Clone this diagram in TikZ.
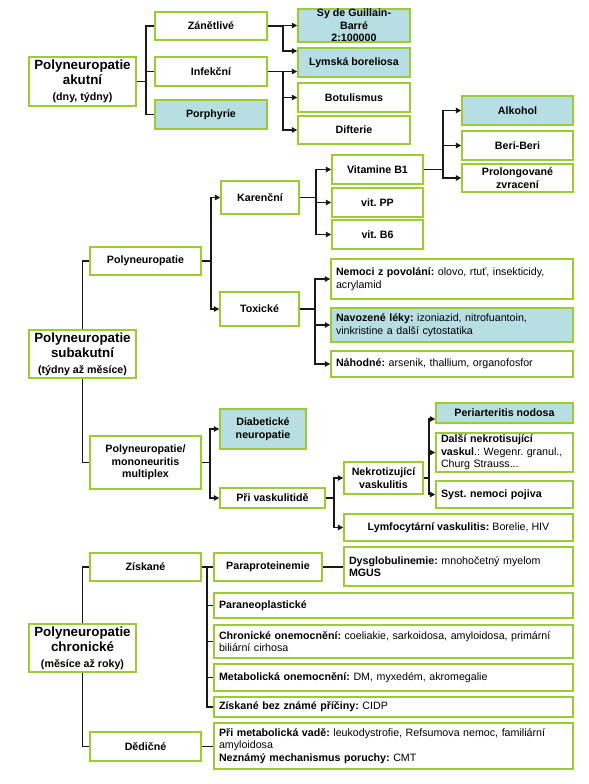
\documentclass[tikz,border=0pt]{standalone}
\usepackage{fontspec}
\setmainfont{Liberation Sans}
\usetikzlibrary{arrows.meta}
\frenchspacing
\definecolor{bgreen}{RGB}{155,204,50}
\definecolor{tealf}{RGB}{183,222,226}
\definecolor{lnc}{RGB}{25,25,25}
\newcommand\mkbox[7]{%
 \pgfmathsetmacro\bxw{(#4-#2)*0.75}%
 \pgfmathsetmacro\bxh{(#5-#3)*0.75}%
 \pgfmathsetmacro\bxx{(#2+#4)/2}%
 \pgfmathsetmacro\bxy{(#3+#5)/2}%
 \node[#6, minimum width=\bxw pt, minimum height=\bxh pt] (#1) at (\bxx,\bxy) {#7};}
\newcommand\mklbox[7]{%
 \pgfmathsetmacro\bxw{(#4-#2)*0.75}%
 \pgfmathsetmacro\bxt{(#4-#2-10)*0.75}%
 \pgfmathsetmacro\bxh{(#5-#3)*0.75}%
 \pgfmathsetmacro\bxx{(#2+#4)/2}%
 \pgfmathsetmacro\bxy{(#3+#5)/2}%
 \node[lbox, #6, text width=\bxt pt, minimum width=\bxw pt, minimum height=\bxh pt] (#1) at (\bxx,\bxy) {#7};}
\tikzset{
 box/.style={draw=bgreen, line width=1.1pt, fill=white, inner sep=0pt, align=center, font=\fontsize{8}{9.4}\selectfont\frenchspacing\bfseries},
 tbox/.style={box, fill=tealf},
 mainbox/.style={box, font=\fontsize{10}{11}\selectfont\frenchspacing\bfseries},
 nbox/.style={box, font=\fontsize{8}{9.4}\selectfont\frenchspacing},
 lbox/.style={box, align=left, inner xsep=3.75pt, inner ysep=0pt, font=\fontsize{8}{9.4}\selectfont\frenchspacing},
 ln/.style={draw=lnc, line width=0.9pt},
 arr/.style={ln, -{Triangle[length=4pt,width=4pt]}},
}
\begin{document}
\begin{tikzpicture}[x=0.75pt, y=-0.75pt]
\useasboundingbox (0,0) rectangle (588,784);
% ---------- akutni
\mkbox{akut}{29}{57}{136}{106}{mainbox}{Polyneuropatie\\akutní\\[1pt]{\fontsize{8}{9}\selectfont (dny, týdny)}}
\mkbox{zan}{155}{12}{267}{40}{box}{Zánětlivé}
\mkbox{inf}{155}{57}{267}{86}{box}{Infekční}
\mkbox{por}{155}{100}{267}{129}{tbox}{Porphyrie}
\mkbox{sy}{298}{11}{410}{40}{tbox}{Sy de Guillain-\\Barré\\2:100000}
\mkbox{lym}{298}{48}{410}{77}{tbox}{Lymská boreliosa}
\mkbox{bot}{298}{83}{410}{112}{box}{Botulismus}
\mkbox{dif}{298}{116}{410}{144}{box}{Difterie}
% ---------- subakutni
\mkbox{sub}{29}{330}{136}{378}{mainbox}{Polyneuropatie\\subakutní\\[1pt]{\fontsize{8}{9}\selectfont (týdny až měsíce)}}
\mkbox{poly}{90}{247}{201}{275}{box}{Polyneuropatie}
\mkbox{pm}{90}{436}{201}{489}{box}{Polyneuropatie/\\mononeuritis\\multiplex}
\mkbox{kar}{221}{181}{299}{214}{box}{Karenční}
\mkbox{tox}{220}{292}{299}{326}{box}{Toxické}
\mkbox{vb1}{332}{155}{423}{184}{box}{Vitamine B1}
\mkbox{vpp}{332}{188}{423}{217}{box}{vit. PP}
\mkbox{vb6}{332}{220}{423}{249}{box}{vit. B6}
\mkbox{alk}{462}{96}{573}{125}{tbox}{Alkohol}
\mkbox{ber}{462}{131}{573}{160}{box}{Beri-Beri}
\mkbox{pro}{462}{164}{573}{192}{box}{Prolongované\\zvracení}
\mklbox{nem}{331}{259}{573}{299}{}{\textbf{Nemoci z povolání:} olovo, rtuť, insekticidy,\\acrylamid}
\mklbox{nav}{331}{308}{573}{342}{fill=tealf}{\textbf{Navozené léky:} izoniazid, nitrofuantoin,\\vinkristine a další cytostatika}
\mklbox{nah}{331}{351}{573}{377}{}{\textbf{Náhodné:} arsenik, thallium, organofosfor}
\mkbox{dia}{220}{409}{306}{449}{tbox}{Diabetické\\neuropatie}
\mkbox{pva}{220}{488}{325}{508}{box}{Při vaskulitidě}
\mkbox{nek}{344}{462}{423}{494}{box}{Nekrotizující\\vaskulitis}
\mkbox{lyf}{344}{514}{573}{541}{nbox}{\textbf{Lymfocytární vaskulitis:} Borelie, HIV}
\mkbox{per}{436}{403}{573}{423}{tbox}{Periarteritis nodosa}
\mklbox{dal}{436}{433}{573}{472}{}{\textbf{Další nekrotisující}\\\textbf{vaskul}.: Wegenr. granul.,\\Churg Strauss...}
\mklbox{sys}{436}{481}{573}{508}{}{\textbf{Syst. nemoci pojiva}}
% ---------- chronicke
\mkbox{chr}{29}{624}{136}{672}{mainbox}{Polyneuropatie\\chronické\\[1pt]{\fontsize{8}{9}\selectfont (měsíce až roky)}}
\mkbox{zis}{90}{553}{201}{581}{box}{Získané}
\mkbox{ded}{90}{732}{201}{761}{box}{Dědičné}
\mkbox{par}{214}{553}{322}{581}{box}{Paraproteinemie}
\mklbox{dys}{344}{547}{573}{586}{}{\textbf{Dysglobulinemie:} mnohočetný myelom\\\textbf{MGUS}}
\mklbox{pne}{214}{593}{573}{618}{}{\textbf{Paraneoplastické}}
\mklbox{chro}{214}{625}{573}{658}{}{\textbf{Chronické onemocnění:} coeliakie, sarkoidosa, amyloidosa, primární\\biliární cirhosa}
\mklbox{met}{214}{664}{573}{691}{}{\textbf{Metabolická onemocnění:} DM, myxedém, akromegalie}
\mklbox{zbz}{214}{697}{573}{717}{}{\textbf{Získané bez známé příčiny:} CIDP}
\mklbox{pmv}{214}{723}{573}{769}{}{\textbf{Při metabolická vadě:} leukodystrofie, Refsumova nemoc, familiární\\amyloidosa\\\textbf{Neznámý mechanismus poruchy:} CMT}
% ---------- trunk coordinates
\coordinate (ta) at (146,0);
\coordinate (tz) at (283,0);
\coordinate (lz) at (0,51);
\coordinate (tp) at (211,0);
\coordinate (tk) at (316,0);
\coordinate (tv) at (443,0);
\coordinate (tt) at (315,0);
\coordinate (tpm) at (210,0);
\coordinate (tpv) at (334,0);
\coordinate (tn) at (429,0);
\coordinate (pz) at (0,419);
\coordinate (tz2) at (207,0);
% ---------- connectors akutni
\foreach \c in {zan,inf,por}{\draw[ln] (akut.east) -- (akut.east -| ta) |- (\c.west);}
\draw[arr] (zan.east) -- (zan.east -| tz) |- (sy.west);
\draw[arr] (zan.east) -- (zan.east -| tz) |- (lym.west |- lz);
\draw[arr] (inf.east) -- (lym.west |- inf.east);
\draw[arr] (inf.east) -- (inf.east -| tz) |- (bot.west);
\draw[arr] (inf.east) -- (inf.east -| tz) |- (dif.west);
% ---------- connectors subakutni
\draw[ln] (sub.north) |- (poly.west);
\draw[ln] (sub.south) |- (pm.west);
\foreach \c in {kar,tox}{\draw[arr] (poly.east) -- (poly.east -| tp) |- (\c.west);}
\foreach \c in {vb1,vpp,vb6}{\draw[arr] (kar.east) -- (kar.east -| tk) |- (\c.west);}
\foreach \c in {alk,ber,pro}{\draw[arr] (vb1.east) -- (vb1.east -| tv) |- (\c.west);}
\foreach \c in {nem,nav,nah}{\draw[arr] (tox.east) -- (tox.east -| tt) |- (\c.west);}
\foreach \c in {dia,pva}{\draw[arr] (pm.east) -- (pm.east -| tpm) |- (\c.west);}
\foreach \c in {nek,lyf}{\draw[arr] (pva.east) -- (pva.east -| tpv) |- (\c.west);}
\draw[arr] (nek.east) -- (nek.east -| tn) |- (per.west |- pz);
\foreach \c in {dal,sys}{\draw[arr] (nek.east) -- (nek.east -| tn) |- (\c.west);}
% ---------- connectors chronicke
\draw[ln] (chr.north) |- (zis.west);
\draw[ln] (chr.south) |- (ded.west);
\draw[ln] (zis.east) -- (par.west);
\foreach \c in {pne,chro,met,zbz}{\draw[ln] (zis.east) -- (zis.east -| tz2) |- (\c.west);}
\draw[ln] (par.east) -- (dys.west |- par.east);
\draw[ln] (ded.east) -- (pmv.west |- ded.east);
\end{tikzpicture}
\end{document}
